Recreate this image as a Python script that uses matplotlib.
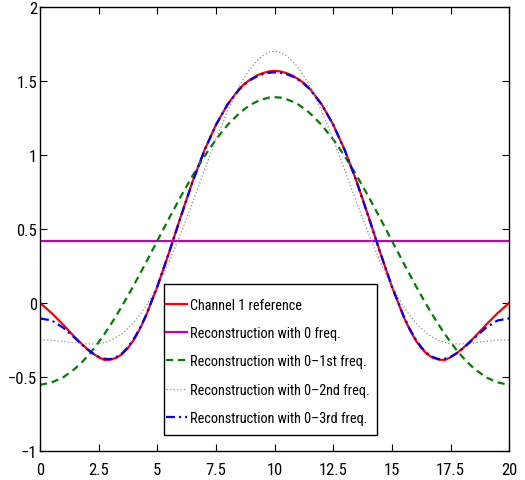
#!/usr/bin/env python3
"""
Channel 1 reference vs. Fourier reconstructions (0 .. 3rd freq.)
"""

import numpy as np
import matplotlib
matplotlib.use('Agg')
import matplotlib.pyplot as plt
from matplotlib import font_manager
from matplotlib.font_manager import FontProperties
from matplotlib.patches import Rectangle


def find_narrow_font():
    # MATLAB figures use a tall narrow Helvetica; look for something similar
    ranked = ['liberation sans narrow', 'roboto condensed', 'noto sans condensed',
              'open sans condensed', 'dejavu sans condensed']
    skip = ('bold', 'italic', 'extra', 'semi', 'light', 'medium', 'black', 'thin')
    best, best_rank = None, len(ranked) + 1
    for f in font_manager.fontManager.ttflist:
        fn = f.fname.lower()
        if f.style != 'normal':
            continue
        if 'condensed' not in fn and 'narrow' not in fn:
            continue
        if any(s in fn for s in skip):
            continue
        key = f.name.lower() + (' condensed' if 'condensed' in fn else '') \
            + (' narrow' if 'narrow' in fn else '')
        for r, cand in enumerate(ranked):
            if all(w in key for w in cand.split()):
                if r < best_rank:
                    best, best_rank = f.fname, r
                break
    return best


narrow = find_narrow_font()
if narrow:
    TICK_FP = FontProperties(fname=narrow, size=12)
    LEG_FP = FontProperties(fname=narrow, size=10.3)
else:
    TICK_FP = FontProperties(family='Liberation Sans', size=11)
    LEG_FP = FontProperties(family='Liberation Sans', size=9)

# ============================================================
# data
# ============================================================
x_vals = [0, 0.5, 1, 1.5, 1.75, 2, 2.25, 2.5, 2.75, 3,
          3.25, 3.5, 3.75, 4, 4.25, 4.5, 5, 5.5, 6, 6.5,
          7, 7.5, 8, 8.5, 8.75, 9, 9.25, 9.5, 9.75, 10,
          10.25, 10.5, 10.75, 11, 11.25, 11.5, 12, 12.5, 13, 13.5,
          14, 14.5, 15, 15.5, 15.75, 16, 16.25, 16.5, 16.75, 17,
          17.25, 17.5, 17.75, 18, 18.25, 18.5, 19, 19.5, 20]

reference = [0.00, -0.07, -0.15, -0.235, -0.273, -0.31, -0.342, -0.368, -0.386, -0.384,
             -0.372, -0.347, -0.305, -0.25, -0.178, -0.095, 0.11, 0.34, 0.585, 0.82,
             1.03, 1.205, 1.345, 1.45, 1.487, 1.515, 1.539, 1.555, 1.566, 1.57,
             1.566, 1.555, 1.539, 1.515, 1.487, 1.45, 1.345, 1.205, 1.03, 0.82,
             0.585, 0.34, 0.11, -0.095, -0.178, -0.25, -0.305, -0.347, -0.372, -0.384,
             -0.386, -0.368, -0.342, -0.31, -0.273, -0.235, -0.15, -0.07, 0.00]

rec_0 = 0.417

rec_01 = [-0.555, -0.538, -0.503, -0.444, -0.407, -0.365, -0.318, -0.266, -0.210, -0.150,
          -0.087, -0.020, 0.049, 0.120, 0.194, 0.268, 0.42, 0.572, 0.720, 0.860,
          0.990, 1.106, 1.205, 1.284, 1.316, 1.343, 1.363, 1.378, 1.389, 1.392,
          1.389, 1.378, 1.363, 1.343, 1.316, 1.284, 1.205, 1.106, 0.990, 0.860,
          0.720, 0.572, 0.42, 0.268, 0.194, 0.120, 0.049, -0.020, -0.087, -0.150,
          -0.210, -0.266, -0.318, -0.365, -0.407, -0.444, -0.503, -0.538, -0.555]

rec_02 = [-0.25, -0.253, -0.261, -0.270, -0.275, -0.277, -0.278, -0.276, -0.268, -0.255,
          -0.233, -0.208, -0.172, -0.133, -0.082, -0.027, 0.11, 0.277, 0.469, 0.678,
          0.894, 1.106, 1.301, 1.467, 1.535, 1.593, 1.639, 1.673, 1.695, 1.703,
          1.695, 1.673, 1.639, 1.593, 1.535, 1.467, 1.301, 1.106, 0.894, 0.678,
          0.469, 0.277, 0.11, -0.027, -0.082, -0.133, -0.172, -0.208, -0.233, -0.255,
          -0.268, -0.276, -0.278, -0.277, -0.275, -0.270, -0.261, -0.253, -0.25]

rec_03 = [-0.105, -0.119, -0.169, -0.240, -0.277, -0.312, -0.342, -0.365, -0.378, -0.381,
          -0.367, -0.341, -0.300, -0.244, -0.174, -0.090, 0.11, 0.341, 0.582, 0.817,
          1.028, 1.205, 1.344, 1.445, 1.482, 1.511, 1.533, 1.548, 1.557, 1.56,
          1.557, 1.548, 1.533, 1.511, 1.482, 1.445, 1.344, 1.205, 1.028, 0.817,
          0.582, 0.341, 0.11, -0.090, -0.174, -0.244, -0.300, -0.341, -0.367, -0.381,
          -0.378, -0.365, -0.342, -0.312, -0.277, -0.240, -0.169, -0.119, -0.105]

labels = ['Channel 1 reference',
          'Reconstruction with 0 freq.',
          'Reconstruction with 0\u20131st freq.',
          'Reconstruction with 0\u20132nd freq.',
          'Reconstruction with 0\u20133rd freq.']

x_ticks = [0, 2.5, 5, 7.5, 10, 12.5, 15, 17.5, 20]
x_tick_labels = ['0', '2.5', '5', '7.5', '10', '12.5', '15', '17.5', '20']
y_ticks = [-1, -0.5, 0, 0.5, 1, 1.5, 2]
y_tick_labels = ['\u22121', '\u22120.5', '0', '0.5', '1', '1.5', '2']

# ============================================================
# plot
# ============================================================
fig = plt.figure(figsize=(5.25, 4.81), dpi=100)
ax = fig.add_axes([0.0762, 0.061, 0.8938, 0.9217])

x = np.array(x_vals)
ax.plot(x, reference, color='#FF0000', lw=1.6, label=labels[0])
ax.plot(x, np.full(len(x), rec_0), color='#BF00BF', lw=1.6, label=labels[1])
ax.plot(x, rec_01, color='#008000', lw=1.6, ls=(0, (3.2, 2.2)), label=labels[2])
ax.plot(x, rec_02, color='#8C8C8C', lw=0.9, ls=(0, (1, 1.8)), label=labels[3])
ax.plot(x, rec_03, color='#0000FF', lw=1.6, ls=(0, (4, 1.8, 1, 1.8)), label=labels[4])

ax.set_xlim(0, 20)
ax.set_ylim(-1, 2)
ax.set_xticks(x_ticks)
ax.set_xticklabels(x_tick_labels, fontproperties=TICK_FP)
ax.set_yticks(y_ticks)
ax.set_yticklabels(y_tick_labels, fontproperties=TICK_FP)

ax.tick_params(direction='in', length=5, width=0.8, top=True, right=True,
               colors='black')
ax.tick_params(axis='x', pad=8)
ax.tick_params(axis='y', pad=2)
for s in ax.spines.values():
    s.set_linewidth(1.0)
    s.set_color('black')

# legend box drawn as a plain MATLAB-style frame, entries placed inside it
frame = Rectangle((0.2642, 0.0354), 0.4539, 0.3405, transform=ax.transAxes,
                  facecolor='white', edgecolor='black', lw=1.0, zorder=4.5)
ax.add_patch(frame)
leg = ax.legend(loc='upper left', bbox_to_anchor=(0.2685, 0.345),
                borderaxespad=0, borderpad=0, prop=LEG_FP, frameon=False,
                handlelength=1.5, handletextpad=0.15, labelspacing=1.0)
leg.set_zorder(5)

fig.savefig('out.png', dpi=100)
plt.close()
